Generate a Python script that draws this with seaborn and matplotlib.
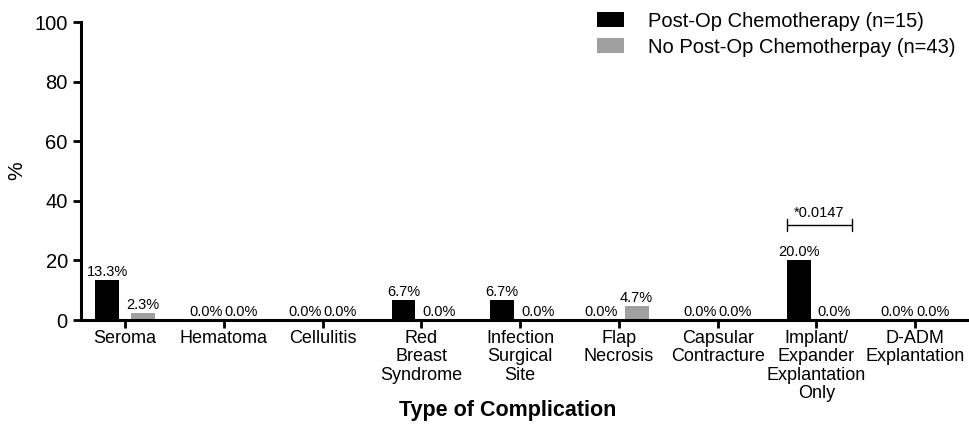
import pandas as pd
import matplotlib
matplotlib.use('Agg')
import matplotlib.pyplot as plt
import seaborn as sns

categories = ['Seroma', 'Hematoma', 'Cellulitis', 'Red\nBreast\nSyndrome',
              'Infection\nSurgical\nSite', 'Flap\nNecrosis', 'Capsular\nContracture',
              'Implant/\nExpander\nExplantation\nOnly', 'D-ADM\nExplantation']
chemo = [13.3, 0.0, 0.0, 6.7, 6.7, 0.0, 0.0, 20.0, 0.0]
no_chemo = [2.3, 0.0, 0.0, 0.0, 0.0, 4.7, 0.0, 0.0, 0.0]
groups = ['Post-Op Chemotherapy (n=15)', 'No Post-Op Chemotherpay (n=43)']
yticks = [0, 20, 40, 60, 80, 100]

df = pd.DataFrame({
    'cat': categories * 2,
    'val': chemo + no_chemo,
    'group': [groups[0]] * len(categories) + [groups[1]] * len(categories),
})

sns.set_style('ticks')
plt.rcParams['font.family'] = ['Liberation Sans', 'DejaVu Sans']
plt.rcParams['text.color'] = 'black'
plt.rcParams['axes.labelcolor'] = 'black'
plt.rcParams['xtick.color'] = 'black'
plt.rcParams['ytick.color'] = 'black'
plt.rcParams['axes.edgecolor'] = 'black'

fig = plt.figure(figsize=(9.7, 4.25), dpi=100)
ax = fig.add_axes([0.0835, 0.247, 0.914, 0.701])

sns.barplot(data=df, x='cat', y='val', hue='group', order=categories,
            hue_order=groups, palette=['black', '#a0a0a0'],
            width=0.72, gap=0.333, edgecolor='none', ax=ax, legend=True)

# value labels on top of each bar
for cont in ax.containers:
    ax.bar_label(cont, labels=[f'{v:.1f}%' for v in cont.datavalues],
                 fontsize=10.5, padding=1)

ax.set_ylim(0, 100)
ax.set_yticks(yticks)
ax.set_xlim(-0.445, 8.53)
ax.set_ylabel('%', fontsize=15)
ax.yaxis.set_label_coords(-0.062, 0.5)
ax.set_xlabel('Type of Complication', fontsize=15.5, fontweight='bold', va='center')
ax.xaxis.set_label_coords(0.481, -0.305)
ax.tick_params(axis='y', labelsize=14.5, width=2, length=6)
ax.tick_params(axis='x', labelsize=13, width=2, length=6, pad=1)
for lbl in ax.get_xticklabels():
    lbl.set_linespacing(1.12)
sns.despine(ax=ax)
for s in ['left', 'bottom']:
    ax.spines[s].set_linewidth(2.2)

# significance bracket for implant/expander explantation
x1, x2, yb = 6.70, 7.36, 32
ax.plot([x1, x2], [yb, yb], color='black', lw=1)
ax.plot([x1, x1], [yb - 2, yb + 2], color='black', lw=1)
ax.plot([x2, x2], [yb - 2, yb + 2], color='black', lw=1)
ax.text((x1 + x2) / 2, yb + 1.5, '*0.0147', ha='center', va='bottom', fontsize=10.5)

leg = ax.legend(loc='upper right', bbox_to_anchor=(1.0, 1.075), frameon=False,
                fontsize=14.5, handlelength=1.35, handleheight=0.75, labelspacing=0.35,
                handletextpad=1.2, borderaxespad=0.2)

fig.savefig('out.png', dpi=100)
